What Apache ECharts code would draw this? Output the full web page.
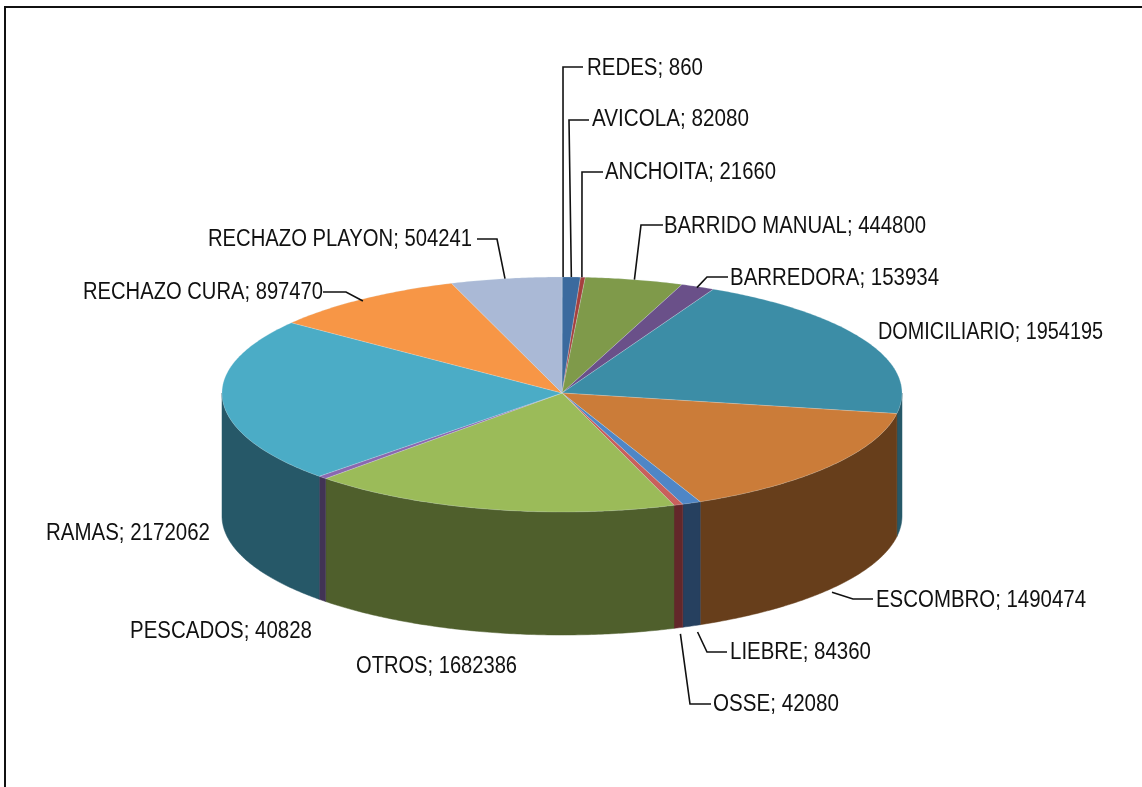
<!DOCTYPE html>
<html>
<head>
<meta charset="utf-8">
<style>html,body{margin:0;padding:0;background:#fff}#c{width:1142px;height:787px}</style>
<script src="https://cdn.jsdelivr.net/npm/echarts@6/dist/echarts.min.js"></script>
</head>
<body>
<div id="c"></div>
<script>
// Data
const categories = ['REDES','AVICOLA','ANCHOITA','BARRIDO MANUAL','BARREDORA','DOMICILIARIO','ESCOMBRO','LIEBRE','OSSE','OTROS','PESCADOS','RAMAS','RECHAZO CURA','RECHAZO PLAYON'];
const values = [860,82080,21660,444800,153934,1954195,1490474,84360,42080,1682386,40828,2172062,897470,504241];

// Styles
const topColors  = ['#CC7C3A','#3B6A9E','#A5403E','#7F9A4A','#6A5089','#3C8DA6','#CB7C39','#4F86C6','#C9605C','#9BBB59','#8A68B0','#4BACC6','#F79646','#AAB9D6'];
const wallColors = ['#673E1B','#26405F','#63272A','#4F5F2C','#413355','#265868','#673E1B','#26405F','#63272A','#4F5F2C','#413355','#265868','#7F4A1C','#56607A'];

// Layout: pie geometry (the back half is slightly flatter than the front, as in a perspective view)
const CX = 562, CY = 393, RX = 340, RY_BACK = 116, RY_FRONT = 119, DEPTH = 123;
// Layout of labels: text left, right, middle y
const labelBoxes = [[587,703,69],[592,749,120],[605,776,173],[664,926,227],[730,939,279],[878,1103,333],[876,1086,601],[730,871,653],[713,839,705],[356,517,667],[130,312,632],[46,210,534],[83,323,293],[208,472,240]];
// Layout of leader lines: anchor nudge dx, dy, elbow x, elbow y, end x (null = no leader)
const leaders = [[1,0,563,67,583],[0,0,569,120,589],[-1,0,582,172,603],[0,0,641,225,663],[-1,1,707,277,728],null,[2,3,853,599,873],[6,6,707,652,727],[2,6,690,704,711],null,null,null,[0,2,346,292,323],[-1,0,497,239,477]];

const FONT = '23px "Liberation Sans Narrow", "Liberation Sans", sans-serif';
const total = values.reduce((a, b) => a + b, 0);
const startShare = [];
values.reduce((acc, v, i) => { startShare[i] = acc / total; return acc + v; }, 0);

const measureCtx = document.createElement('canvas').getContext('2d');
measureCtx.font = FONT;

function rim(theta, dy) {
  const c = Math.cos(theta);
  return [CX + RX * Math.sin(theta), CY - (c > 0 ? RY_BACK : RY_FRONT) * c + (dy || 0)];
}
function arc(a, b, dy) {
  const n = Math.max(2, Math.ceil(Math.abs(b - a) / 0.01));
  const pts = [];
  for (let k = 0; k <= n; k++) pts.push(rim(a + (b - a) * k / n, dy));
  return pts;
}
function sliceAngles(i, value) {
  const a = startShare[i] * 2 * Math.PI;
  return [a, a + value / total * 2 * Math.PI];
}

function renderWall(params, api) {
  const i = api.value(0);
  const [a, b] = sliceAngles(i, api.value(1));
  const lo = Math.max(a, Math.PI / 2), hi = Math.min(b, Math.PI * 1.5);
  if (hi <= lo) return { type: 'group', children: [] };
  const upper = arc(lo, hi, 0), lower = arc(hi, lo, DEPTH);
  return {
    type: 'polygon',
    shape: { points: upper.concat(lower) },
    style: { fill: wallColors[i], stroke: wallColors[i], lineWidth: 0.5 }
  };
}
function renderTop(params, api) {
  const i = api.value(0);
  const [a, b] = sliceAngles(i, api.value(1));
  return {
    type: 'polygon',
    shape: { points: [[CX, CY]].concat(arc(a, b, 0)) },
    style: { fill: topColors[i], stroke: 'rgba(225,235,240,0.45)', lineWidth: 0.5 }
  };
}
function renderLabel(params, api) {
  const i = api.value(0);
  const [a, b] = sliceAngles(i, api.value(1));
  const mid = (a + b) / 2;
  const text = categories[i] + '; ' + api.value(1);
  const box = labelBoxes[i];
  const scaleX = (box[1] - box[0]) / measureCtx.measureText(text).width;
  const children = [{
    type: 'text', x: box[0], y: box[2], scaleX: scaleX,
    style: { text: text, font: FONT, fill: '#111', align: 'left', verticalAlign: 'middle' }
  }];
  const lead = leaders[i];
  if (lead) {
    const front = Math.cos(mid) < 0;
    const p = rim(mid, front ? DEPTH : 0);
    children.push({
      type: 'polyline',
      shape: { points: [[p[0] + lead[0], p[1] + lead[1]], [lead[2], lead[3]], [lead[4], lead[3]]] },
      style: { fill: 'none', stroke: '#111', lineWidth: 1.6 }
    });
  }
  return { type: 'group', children: children };
}

const seriesData = values.map((v, i) => [i, v]);
const chart = echarts.init(document.getElementById('c'), null, { renderer: 'canvas', width: 1142, height: 787 });
chart.setOption({
  animation: false,
  backgroundColor: '#fff',
  graphic: [{
    type: 'polyline', silent: true,
    shape: { points: [[5, 787], [5, 7], [1142, 7]] },
    style: { fill: 'none', stroke: '#111', lineWidth: 2 }
  }],
  series: [
    { type: 'custom', coordinateSystem: 'none', silent: true, z: 1, data: seriesData, renderItem: renderWall },
    { type: 'custom', coordinateSystem: 'none', silent: true, z: 2, data: seriesData, renderItem: renderTop },
    { type: 'custom', coordinateSystem: 'none', silent: true, z: 3, data: seriesData, renderItem: renderLabel }
  ]
});
</script>
</body>
</html>
